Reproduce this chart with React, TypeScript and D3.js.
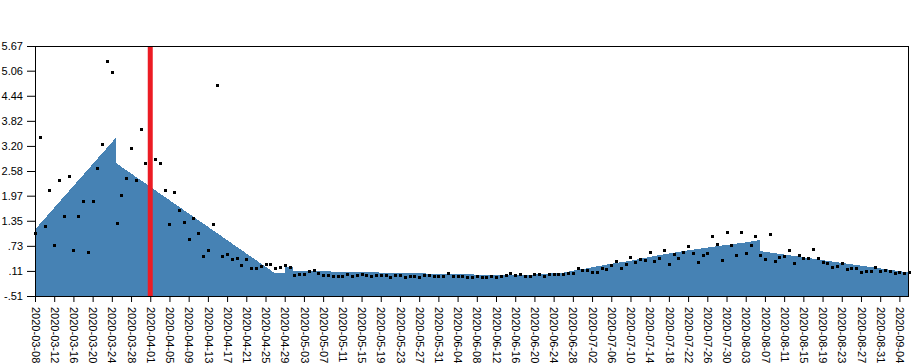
import { useRef, useEffect } from "react";
import * as d3 from "d3";

// daily observations, starting 2020-03-08
const pointStart = "2020-03-08";
const pointValues = [
  1.04, 3.43, 1.23, 2.12, 0.76, 2.35, 1.46, 2.45, 0.63, 1.47,
  1.85, 0.58, 1.83, 2.65, 3.24, 5.30, 5.02, 1.29, 1.98, 2.40,
  3.14, 2.35, 3.61, 2.78, 2.30, 2.87, 2.78, 2.12, 1.27, 2.05,
  1.61, 1.33, 0.91, 1.41, 1.05, 0.48, 0.62, 1.26, 4.70, 0.47,
  0.53, 0.40, 0.43, 0.25, 0.40, 0.18, 0.18, 0.23, 0.28, 0.28,
  0.19, 0.20, 0.25, 0.20, 0.00, 0.03, 0.04, 0.10, 0.13, 0.05,
  0.01, 0.01,
  -0.02, -0.02, -0.02, 0.04, -0.01, 0.01, 0.03, 0.00, -0.02, 0.00,
  0.00, 0.00, -0.05, 0.00, 0.02, -0.03, -0.02, -0.02, -0.03, 0.01,
  0.01, -0.02, -0.01, -0.01, 0.06, -0.02, -0.02, -0.02, -0.03, -0.03,
  -0.02, -0.05, -0.03, -0.02, -0.03, -0.02, 0.02, 0.06, 0.00, 0.03,
  -0.01, -0.01, 0.03, 0.03, -0.02, 0.03, 0.03, 0.03, 0.03, 0.05,
  0.06, 0.17, 0.13, 0.13, 0.09, 0.08, 0.17, 0.15, 0.26, 0.35,
  0.18, 0.27, 0.45, 0.32, 0.40, 0.38, 0.57, 0.35, 0.43, 0.63,
  0.28, 0.52, 0.42, 0.59, 0.73, 0.55, 0.34, 0.50, 0.55, 0.97,
  0.77, 0.37, 1.06, 0.75, 0.50, 1.06, 0.55, 0.74, 0.97, 0.50,
  0.40, 1.02, 0.36, 0.46, 0.47, 0.63, 0.30, 0.50, 0.42, 0.42,
  0.66, 0.43, 0.32, 0.31, 0.20, 0.23, 0.31, 0.15, 0.19, 0.17,
  0.09, 0.12, 0.11, 0.20, 0.12, 0.13, 0.11, 0.05, 0.08, 0.07,
  0.08,
];

// fitted trend (area), knots as "date hour"
const modelDates = [
  "2020-03-08 00", "2020-03-08 05", "2020-03-24 20", "2020-03-24 20",
  "2020-04-27 00", "2020-04-29 00", "2020-04-29 00", "2020-04-30 16",
  "2020-04-30 16", "2020-06-12 00", "2020-06-20 00", "2020-06-26 00",
  "2020-06-28 00", "2020-07-01 00", "2020-07-04 00", "2020-07-07 00",
  "2020-07-10 00", "2020-07-16 00", "2020-07-22 00", "2020-07-28 00",
  "2020-08-03 00", "2020-08-06 00", "2020-08-06 00", "2020-09-06 00",
];
const modelValues = [
  1.81, 1.16, 3.40, 2.78,
  0.05, 0.05, 0.21, 0.21,
  0.115, 0.01, 0.02, 0.066,
  0.115, 0.175, 0.244, 0.306,
  0.36, 0.50, 0.62, 0.72,
  0.815, 0.875, 0.60, 0.07,
];

const yTickLabels = ["-.51", ".11", ".73", "1.35", "1.97", "2.58", "3.20", "3.82", "4.44", "5.06", "5.67"];
const xDomain = ["2020-03-08", "2020-09-06"];
const xTickFirst = "2020-03-08";
const xTickLast = "2020-09-05";
const markerDate = "2020-04-01";

const W = 915;
const H = 364;
const margin = { top: 46, right: 6, bottom: 68, left: 35 };

export default function App() {
  const svgRef = useRef<SVGSVGElement | null>(null);

  useEffect(() => {
    document.body.style.margin = "0";
    if (!svgRef.current) return;
    const svg = d3.select(svgRef.current);
    svg.selectAll("*").remove();

    const parseDay = d3.timeParse("%Y-%m-%d");
    const parseHour = d3.timeParse("%Y-%m-%d %H");

    const x = d3
      .scaleTime()
      .domain(xDomain.map((s) => parseDay(s) as Date))
      .range([margin.left, W - margin.right]);
    const y = d3
      .scaleLinear()
      .domain([-0.51, 5.67])
      .range([H - margin.bottom, margin.top]);

    const model = modelDates.map((s, i) => ({ date: parseHour(s) as Date, value: modelValues[i] }));
    const start = parseDay(pointStart) as Date;
    const points = pointValues.map((v, i) => ({ date: d3.timeDay.offset(start, i), value: v }));

    // trend area
    const area = d3
      .area<{ date: Date; value: number }>()
      .x((d) => x(d.date))
      .y0(y(-0.51))
      .y1((d) => y(d.value));

    svg
      .append("path")
      .datum(model)
      .attr("d", area)
      .attr("fill", "steelblue")
      .attr("shape-rendering", "crispEdges");

    // observations
    svg
      .append("g")
      .selectAll("rect")
      .data(points)
      .join("rect")
      .attr("x", (d) => Math.round(x(d.date)) - 1)
      .attr("y", (d) => Math.round(y(d.value)) - 1)
      .attr("width", 3)
      .attr("height", 3)
      .attr("fill", "#000")
      .attr("shape-rendering", "crispEdges");

    // marker line
    const mx = x(parseDay(markerDate) as Date);
    svg
      .append("line")
      .attr("x1", mx)
      .attr("x2", mx)
      .attr("y1", y(5.67))
      .attr("y2", y(-0.51))
      .attr("stroke", "#ec1c24")
      .attr("stroke-width", 5);

    // frame
    svg
      .append("rect")
      .attr("x", margin.left + 0.5)
      .attr("y", margin.top + 0.5)
      .attr("width", W - margin.left - margin.right - 1)
      .attr("height", H - margin.top - margin.bottom)
      .attr("fill", "none")
      .attr("stroke", "#000")
      .attr("stroke-width", 1)
      .attr("shape-rendering", "crispEdges");

    // y axis
    const yAxis = d3
      .axisLeft(y)
      .tickValues(yTickLabels.map((s) => parseFloat(s)))
      .tickFormat((_, i) => yTickLabels[i])
      .tickSize(8)
      .tickPadding(4);
    const gy = svg
      .append("g")
      .attr("transform", `translate(${margin.left},0)`)
      .call(yAxis);
    gy.select(".domain").remove();
    gy.selectAll("line").attr("stroke", "#000");
    gy.selectAll("text")
      .attr("fill", "#000")
      .style("font", "11px 'Liberation Sans', Arial, sans-serif");

    // x axis
    const ticks = d3.timeDay.range(
      parseDay(xTickFirst) as Date,
      parseDay(xTickLast) as Date,
      4
    );
    const xAxis = d3
      .axisBottom(x)
      .tickValues(ticks)
      .tickFormat((d) => d3.timeFormat("%Y-%m-%d")(d as Date))
      .tickSize(6);
    const gx = svg
      .append("g")
      .attr("transform", `translate(0,${H - margin.bottom})`)
      .call(xAxis);
    gx.select(".domain").remove();
    gx.selectAll("line").attr("stroke", "#000");
    gx.selectAll("text")
      .attr("fill", "#000")
      .attr("y", 0)
      .attr("x", 11)
      .attr("dy", "0.35em")
      .attr("transform", "rotate(90)")
      .style("text-anchor", "start")
      .style("font", "11px 'Liberation Sans', Arial, sans-serif");
  }, []);

  return <svg ref={svgRef} width={W} height={H} style={{ display: "block" }}></svg>;
}
